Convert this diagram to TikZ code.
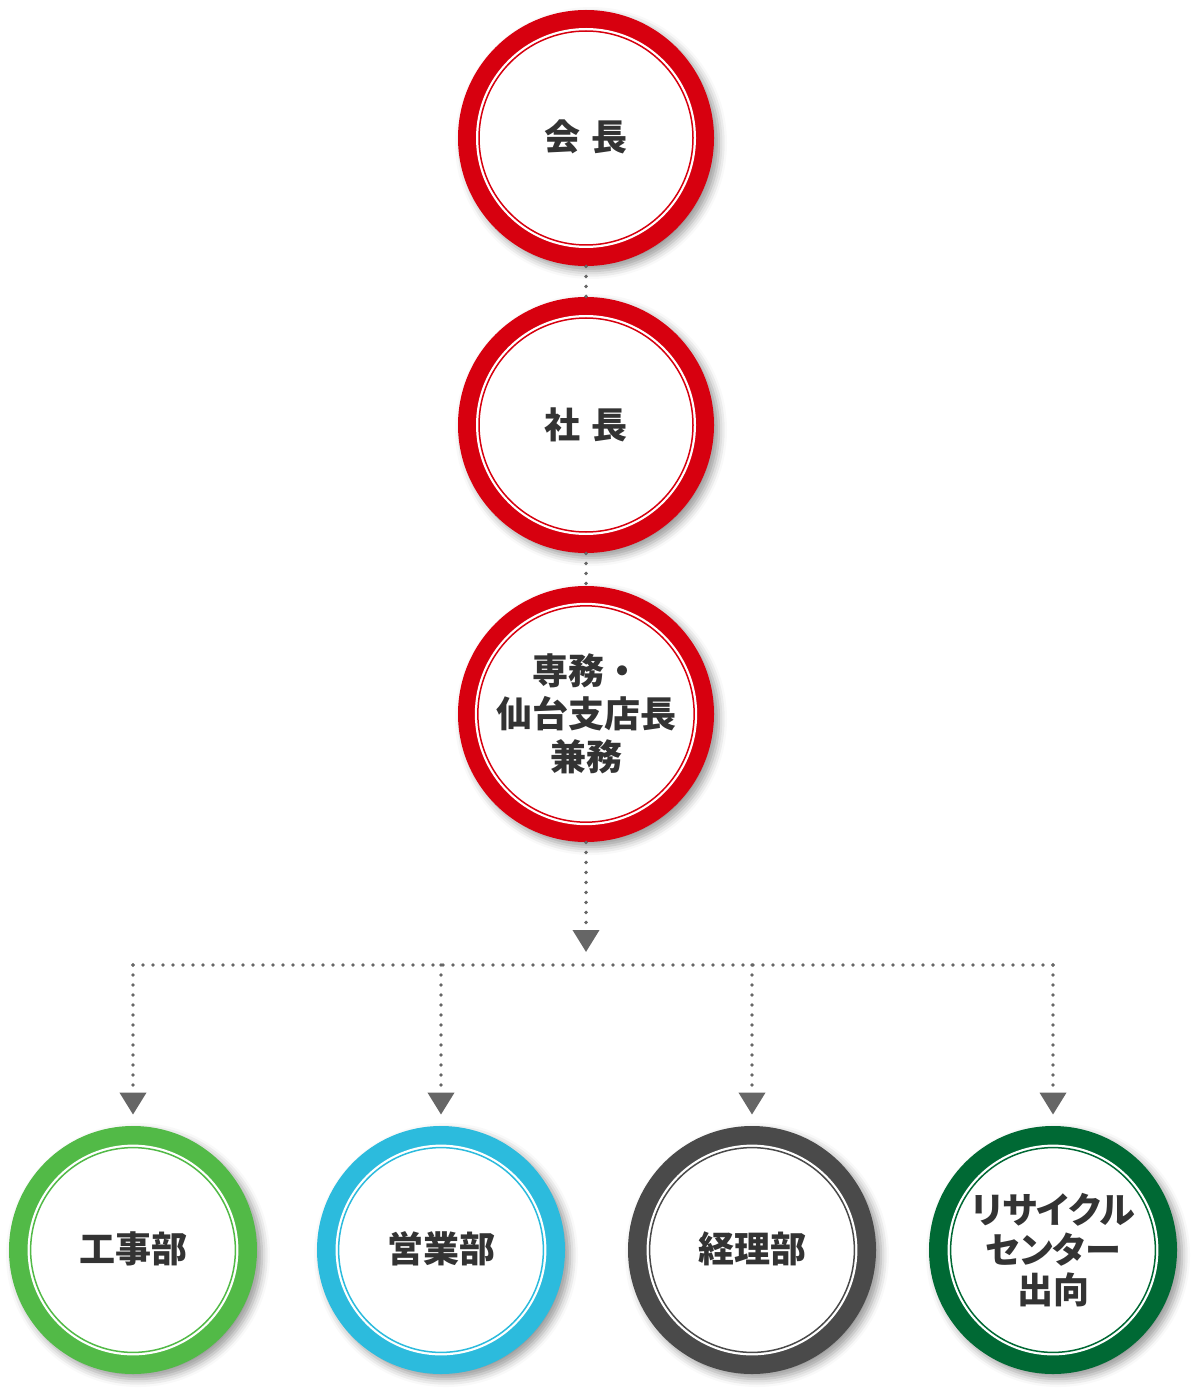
\documentclass[tikz,border=0pt]{standalone}
\usepackage{fontspec}
\newfontfamily\cjk{Noto Sans CJK JP}
\newfontfamily\cjkp[RawFeature=+palt]{Noto Sans CJK JP}
\usetikzlibrary{arrows.meta,shadows.blur}
\definecolor{ringred}{HTML}{D7000F}
\definecolor{ringgreen}{HTML}{52BA47}
\definecolor{ringcyan}{HTML}{2CBBDD}
\definecolor{ringgrey}{HTML}{4A4A4A}
\definecolor{ringdark}{HTML}{006934}
\definecolor{dotgrey}{HTML}{666666}
\definecolor{textgrey}{HTML}{333333}

\begin{document}
\begin{tikzpicture}[x=0.5pt, y=-0.5pt,
  ring/.style={circle, fill=#1, inner sep=0pt,
    blur shadow={shadow xshift=2.5pt, shadow yshift=-2.5pt, shadow blur radius=4pt, shadow opacity=40}},
  face/.style={circle, fill=white, draw=#1, line width=0.75pt,
    preaction={draw=white, line width=3pt}, inner sep=0pt,
    text=textgrey, align=center, font=\cjk\bfseries\fontsize{18pt}{21.5pt}\selectfont},
  dots/.style={dotgrey, line width=1.9pt, line cap=round, dash pattern=on 0pt off 5pt},
  tip/.style={-{Triangle[width=13pt,length=11pt]}}]
\useasboundingbox (0,0) rectangle (1193,1390);

% Define nodes
\node[ring=ringred, minimum size=128pt] (kaicho-ring) at (586,138) {};
\node[face=ringred, minimum size=107pt] (kaicho) at (kaicho-ring) {\raisebox{2.5pt}{会\hspace{6pt}長}};
\node[ring=ringred, minimum size=128pt] (shacho-ring) at (586,425) {};
\node[face=ringred, minimum size=107pt] (shacho) at (shacho-ring) {\raisebox{2pt}{社\hspace{6pt}長}};
\node[ring=ringred, minimum size=128pt] (senmu-ring) at (586,714) {};
\node[face=ringred, minimum size=107pt] (senmu) at (senmu-ring) {専務・\\仙台支店長\\兼務};

\node[ring=ringgreen, minimum size=124pt] (koji-ring) at (133,1250) {};
\node[face=ringgreen, minimum size=102.4pt] (koji) at (koji-ring) {\raisebox{2.5pt}{工事部}};
\node[ring=ringcyan, minimum size=124pt] (eigyo-ring) at (441,1250) {};
\node[face=ringcyan, minimum size=102.4pt] (eigyo) at (eigyo-ring) {\raisebox{2.5pt}{営業部}};
\node[ring=ringgrey, minimum size=124pt] (keiri-ring) at (752,1250) {};
\node[face=ringgrey, minimum size=102.4pt] (keiri) at (keiri-ring) {\raisebox{2.5pt}{経理部}};
\node[ring=ringdark, minimum size=124pt] (recycle-ring) at (1053,1250) {};
\node[face=ringdark, minimum size=102.4pt,
  font=\cjkp\bfseries\fontsize{18pt}{20pt}\selectfont] (recycle) at (recycle-ring) {リサイクル\\センター\\出向};

\coordinate (hub) at (586,952);
\coordinate (bar) at (586,965);

% Draw connectors
\draw[dots] (kaicho-ring) -- (shacho-ring);
\draw[dots] (shacho-ring) -- (senmu-ring);
\draw[dots, tip] (senmu-ring) -- (hub);
\draw[dots] (bar -| koji-ring) -- (bar -| recycle-ring);
\foreach \n in {koji, eigyo, keiri, recycle}
  \draw[dots, tip, shorten >=5.5pt] (bar -| \n-ring) -- (\n-ring);
\end{tikzpicture}
\end{document}
